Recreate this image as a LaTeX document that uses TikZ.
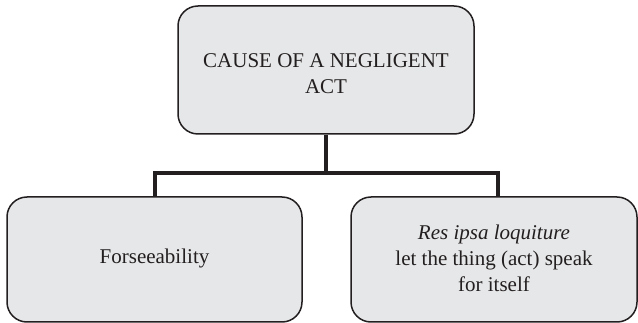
\documentclass[tikz,border=0pt]{standalone}
\usepackage{fontspec}
\setmainfont{Liberation Serif}
\definecolor{boxfill}{HTML}{E6E7E8}
\definecolor{ink}{HTML}{231F20}
\begin{document}
\begin{tikzpicture}[x=1pt,y=-1pt,
  card/.style={draw=ink, fill=boxfill, line width=1.5pt, rounded corners=20pt,
    inner sep=0pt},
  cardtext/.style={align=center, text=ink, inner sep=0pt,
    font=\fontsize{21}{26}\selectfont},
  link/.style={draw=ink, line width=4pt, line join=miter}]
  \useasboundingbox (0,0) rectangle (638,323);
  % parent box
  \node[card, minimum width=296pt, minimum height=128pt] (cause) at (326,70) {};
  \node[cardtext] (causetext) at ([yshift=-4pt]cause.center)
    {CAUSE OF A NEGLIGENT\\ACT};
  % child boxes
  \node[card, minimum width=295pt, minimum height=125pt] (fore) at (154.5,259.5) {};
  \node[cardtext] (foretext) at ([yshift=1pt]fore.center) {Forseeability};
  \node[card, minimum width=286pt, minimum height=125pt] (res) at (494,259.5) {};
  \node[cardtext] (restext) at ([yshift=1pt]res.center)
    {\textit{Res ipsa loquiture}\\let the thing (act) speak\\for itself};
  % tree connector
  \coordinate (bar) at (326,173);
  \draw[link] (cause.south) -- (bar);
  \draw[link] (fore.north) |- (bar) -| ([xshift=4pt]res.north);
\end{tikzpicture}
\end{document}
